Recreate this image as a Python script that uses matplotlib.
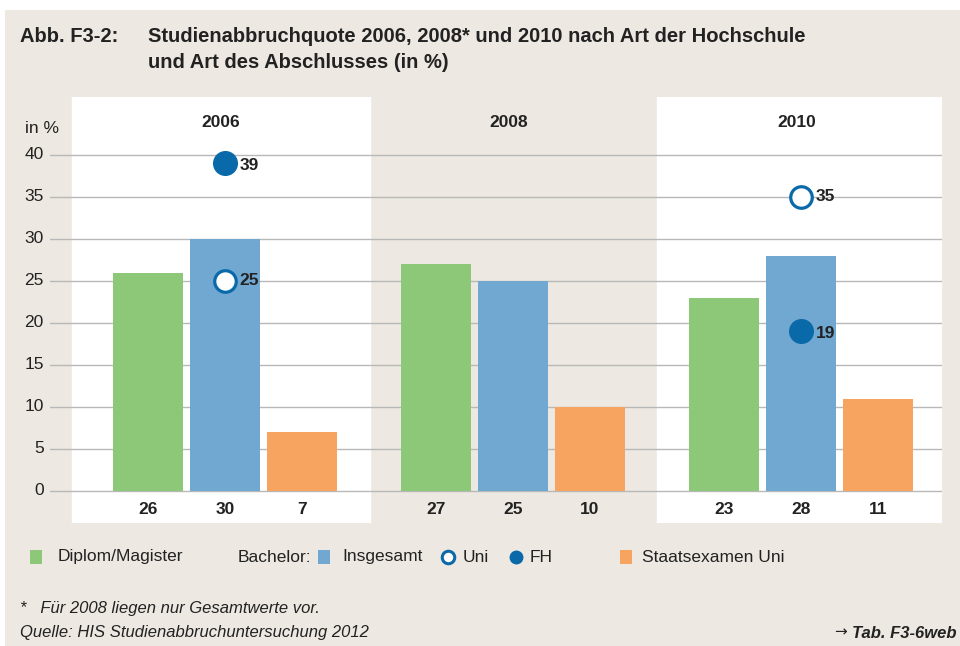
import matplotlib.pyplot as plt
from matplotlib.patches import Rectangle
from matplotlib.lines import Line2D

plt.rcParams['font.family'] = ['Liberation Sans', 'DejaVu Sans']

years = ['2006', '2008', '2010']
diplom = [26, 27, 23]
bachelor = [30, 25, 28]
staatsexamen = [7, 10, 11]
uni = [25, None, 35]
fh = [39, None, 19]
yticks = [0, 5, 10, 15, 20, 25, 30, 35, 40]

c_green = '#8cc878'
c_blue = '#70a8d2'
c_orange = '#f6a45f'
c_dark = '#0a69a8'
c_bg = '#ede8e1'
c_text = '#222222'

W, H = 960, 646
fig = plt.figure(figsize=(9.6, 6.46), dpi=100)
fig.patch.set_facecolor('white')
fig.patches.append(Rectangle((5 / W, 0), 1, 1 - 10 / H, transform=fig.transFigure,
                             facecolor=c_bg, edgecolor='none', zorder=-10))

ax = fig.add_axes([50 / W, 1 - 523 / H, 892 / W, 426 / H])
ax.set_facecolor('none')
step = 3.74
ax.set_xlim(-2.27, 9.31)
ax.set_ylim(-3.81, 46.9)
ax.axis('off')

# white panels for 2006 and 2010
ax.axvspan(-1.99, 1.88, color='white', zorder=0)
ax.axvspan(2 * step - 1.87, 9.31, color='white', zorder=0)

for t in yticks:
    ax.plot([-2.27, 9.31], [t, t], color='#b8b8b8', lw=1.0, zorder=1)
    ax.text(-2.35, t, str(t), ha='right', va='center', fontsize=12.5, color=c_text)
ax.text(-2.38, 43.2, 'in %', ha='center', va='center', fontsize=12.5, color=c_text)

bw = 70 / 77
for g, yr in enumerate(years):
    c = g * step
    vals = [diplom[g], bachelor[g], staatsexamen[g]]
    cols = [c_green, c_blue, c_orange]
    for i, (v, col) in enumerate(zip(vals, cols)):
        ax.bar(c + i - 1, v, width=bw, color=col, zorder=2)
        ax.text(c + i - 1, -2.2, str(v), ha='center', va='center', fontsize=12.5,
                fontweight='bold', color=c_text)
    ax.text(c - 0.05, 43.9, yr, ha='center', va='center', fontsize=12.5,
            fontweight='bold', color=c_text)
    if uni[g] is not None:
        ax.plot(c, uni[g], 'o', ms=15.5, mfc='white', mec=c_dark, mew=2.3, zorder=3)
        ax.text(c + 0.19, uni[g], str(uni[g]), ha='left', va='center', fontsize=12.5,
                fontweight='bold', color=c_text)
    if fh[g] is not None:
        ax.plot(c, fh[g], 'o', ms=17, color=c_dark, zorder=3)
        ax.text(c + 0.19, fh[g] - 0.2, str(fh[g]), ha='left', va='center', fontsize=12.5,
                fontweight='bold', color=c_text)

# title
fig.text(20 / W, 1 - 36 / H, 'Abb. F3-2:', fontsize=14.5, fontweight='bold',
         color=c_text, va='center')
fig.text(148 / W, 1 - 36 / H, 'Studienabbruchquote 2006, 2008* und 2010 nach Art der Hochschule',
         fontsize=14.5, fontweight='bold', color=c_text, va='center')
fig.text(148 / W, 1 - 63 / H, 'und Art des Abschlusses (in %)',
         fontsize=14.5, fontweight='bold', color=c_text, va='center')

# legend
ly = 1 - 557 / H
def sq(x, col):
    fig.patches.append(Rectangle((x / W, ly - 7 / H), 12 / W, 14 / H,
                                 transform=fig.transFigure, facecolor=col, edgecolor='none'))
sq(30, c_green)
fig.text(58 / W, ly, 'Diplom/Magister', fontsize=12.5, color=c_text, va='center')
fig.text(238 / W, ly, 'Bachelor:', fontsize=12.5, color=c_text, va='center')
sq(318, c_blue)
fig.text(342 / W, ly, 'Insgesamt', fontsize=12.5, color=c_text, va='center')
fig.lines.append(Line2D([448 / W], [ly], transform=fig.transFigure, marker='o', ms=9,
                        mfc='white', mec=c_dark, mew=2.2))
fig.text(463 / W, ly, 'Uni', fontsize=12.5, color=c_text, va='center')
fig.lines.append(Line2D([516 / W], [ly], transform=fig.transFigure, marker='o', ms=9,
                        color=c_dark))
fig.text(530 / W, ly, 'FH', fontsize=12.5, color=c_text, va='center')
sq(620, c_orange)
fig.text(642 / W, ly, 'Staatsexamen Uni', fontsize=12.5, color=c_text, va='center')

# footer
fig.text(20 / W, 1 - 608 / H, '*   Für 2008 liegen nur Gesamtwerte vor.', fontsize=12,
         style='italic', color=c_text, va='center')
fig.text(20 / W, 1 - 633 / H, 'Quelle: HIS Studienabbruchuntersuchung 2012', fontsize=12,
         style='italic', color=c_text, va='center')
ref = fig.text(957 / W, 1 - 633 / H, 'Tab. F3-6web', fontsize=12, style='italic',
               fontweight='bold', color=c_text, va='center', ha='right')
fig.canvas.draw()
bb = ref.get_window_extent().transformed(fig.transFigure.inverted())
fig.text(bb.x0 - 6 / W, 1 - 632 / H, '→', fontsize=11, family='DejaVu Sans',
         color=c_text, va='center', ha='right')

fig.savefig('out.png', dpi=100)
